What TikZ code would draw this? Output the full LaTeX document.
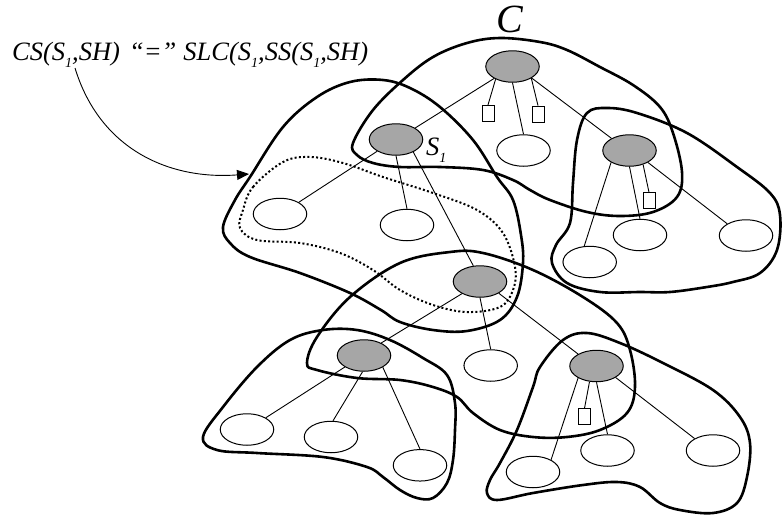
\documentclass[tikz,border=0pt]{standalone}
\usepackage{fontspec}
\setmainfont{Liberation Serif}
\usetikzlibrary{arrows.meta,shapes.geometric}
\definecolor{nodegray}{RGB}{166,166,166}
\newcommand\subone{\raisebox{-0.28em}{\fontsize{14}{14}\selectfont 1}}
\begin{document}
\begin{tikzpicture}[x=1pt,y=-1pt,
  gnode/.style={ellipse,draw,fill=nodegray,line width=1pt,minimum width=53.5pt,minimum height=31.5pt,inner sep=0pt},
  wnode/.style={ellipse,draw,fill=white,line width=1pt,minimum width=53.5pt,minimum height=31.5pt,inner sep=0pt},
  rnode/.style={rectangle,draw,fill=white,line width=0.8pt,minimum width=12pt,minimum height=16pt,inner sep=0pt},
  edge/.style={line width=0.9pt},
  blob/.style={line width=2.6pt},
  dotblob/.style={line width=2pt,dash pattern=on 2pt off 2.3pt},
  lbl/.style={font=\fontsize{26.5}{26.5}\selectfont\itshape,inner sep=0pt}]
\useasboundingbox (0,0) rectangle (782,520);

% blobs
\draw[blob] plot[smooth cycle,tension=0.6] coordinates {(353,143) (373,110) (403,80) (433,57) (467,43) (500,38) (540,42) (567,50) (600,67) (633,85) (660,107) (673,133) (682,172) (677,197) (653,212) (620,216) (587,212) (550,200) (530,190) (513,180) (483,170) (440,167) (400,167) (373,163) (357,155)};
\draw[blob] plot[smooth cycle,tension=0.6] coordinates {(223,227) (235,200) (250,177) (283,127) (317,97) (350,82) (383,80) (410,88) (440,107) (473,140) (497,177) (513,200) (521,235) (523,263) (517,297) (500,320) (467,331) (433,330) (400,322) (381,310) (350,293) (300,273) (250,257) (230,243)};
\draw[dotblob] plot[smooth cycle,tension=0.6] coordinates {(243,210) (253,187) (283,162) (310,157) (343,163) (383,177) (433,193) (477,210) (503,233) (515,267) (513,290) (500,307) (467,312) (433,305) (400,290) (373,270) (340,253) (300,243) (257,240) (240,228)};
\draw[blob] plot[smooth cycle,tension=0.6] coordinates {(587,113) (607,108) (637,113) (687,133) (737,167) (770,193) (780,215) (777,250) (760,273) (733,282) (707,287) (670,292) (640,292) (600,292) (567,283) (552,263) (556,245) (570,223) (573,183) (577,140)};
\draw[blob] plot[smooth cycle,tension=0.6] coordinates {(307,363) (317,337) (350,297) (400,263) (450,252) (483,253) (533,270) (583,297) (617,323) (630,350) (635,387) (627,413) (600,430) (567,437) (533,437) (500,430) (473,413) (457,397) (433,387) (400,380) (357,378) (317,370)};
\draw[blob] plot[smooth cycle,tension=0.6] coordinates {(203,437) (223,407) (257,367) (290,340) (323,330) (357,330) (390,340) (423,358) (447,375) (455,403) (455,430) (453,460) (447,483) (433,498) (417,498) (400,490) (383,477) (367,467) (323,457) (257,453) (217,450)};
\draw[blob] plot[smooth cycle,tension=0.6] coordinates {(487,493) (490,480) (500,463) (517,430) (533,387) (540,367) (563,340) (587,333) (620,343) (663,363) (713,390) (740,417) (750,443) (747,477) (737,503) (713,513) (680,510) (660,503) (640,487) (617,482) (583,485) (533,493) (497,500)};

% nodes
\node[gnode] (R) at (512.5,66.5) {};
\node[gnode] (S) at (396,139.5) {};
\node[gnode] (Rn) at (629.5,150.5) {};
\node[gnode] (M) at (480,281.5) {};
\node[gnode] (B) at (364,355.5) {};
\node[gnode] (Q) at (596.5,366) {};

\node[wnode] (W0) at (523.5,150.5) {};
\node[wnode] (W1) at (280,214) {};
\node[wnode] (W2) at (407,225) {};
\node[wnode] (W3) at (589.7,262) {};
\node[wnode] (W4) at (640,235) {};
\node[wnode] (W5) at (746,235.5) {};
\node[wnode] (W6) at (490.7,365.5) {};
\node[wnode] (W7) at (247,429.5) {};
\node[wnode] (W8) at (331,437) {};
\node[wnode] (W9) at (420,465.3) {};
\node[wnode] (W10) at (533,472) {};
\node[wnode] (W11) at (607.5,450.5) {};
\node[wnode] (W12) at (713,450.5) {};

\node[rnode] (rL) at (488,113.3) {};
\node[rnode] (rR) at (538,114) {};
\node[rnode] (rRn) at (649,200.7) {};
\node[rnode] (rQ) at (584.5,416.7) {};

% edges
\draw[edge] (R.213) -- (S.31);
\draw[edge] (R.217) -- (rL.north);
\draw[edge] (R.south) -- (W0.north);
\draw[edge] (R.328) -- (rR.north);
\draw[edge] (R.329) -- (Rn.146);

\draw[edge] (S.212) -- (W1.32);
\draw[edge] (S.south) -- (W2.north);
\draw[edge] (S.324) -- (M.113);

\draw[edge] (Rn.213) -- (W3.109);
\draw[edge] (Rn.south) -- (W4.north);
\draw[edge] (Rn.314) -- (rRn.north);
\draw[edge] (Rn.327) -- (W5.148);

\draw[edge] (M.214) -- (B.36);
\draw[edge] (M.south) -- (W6.north);
\draw[edge] (M.328) -- (Q.147);

\draw[edge] (B.211) -- (W7.32);
\draw[edge] (B.265) -- (W8.83);
\draw[edge] (B.328) -- (W9.north);

\draw[edge] (Q.213) -- (W10.34);
\draw[edge] (Q.246) -- (rQ.north);
\draw[edge] (Q.south) -- (W11.north);
\draw[edge] (Q.329) -- (W12.147);

% labels
\node[font=\fontsize{40}{40}\selectfont\itshape,inner sep=0pt,anchor=base] (Clbl) at (510,32) {C};
\node[lbl,anchor=base west] (Slbl) at (426,155) {S\subone};
\node[lbl,anchor=base west] (eq) at (12,60) {CS(S\subone,SH)\hspace{9pt}“=”\hspace{7pt}SLC(S\subone,SS(S\subone,SH)};

% arrow
\coordinate (astart) at (75,68);
\coordinate (atip) at (249,174);
\draw[line width=0.9pt,-{Triangle[length=12pt,width=10pt]}] (astart) .. controls (100,150) and (170,180) .. (atip);
\end{tikzpicture}
\end{document}
